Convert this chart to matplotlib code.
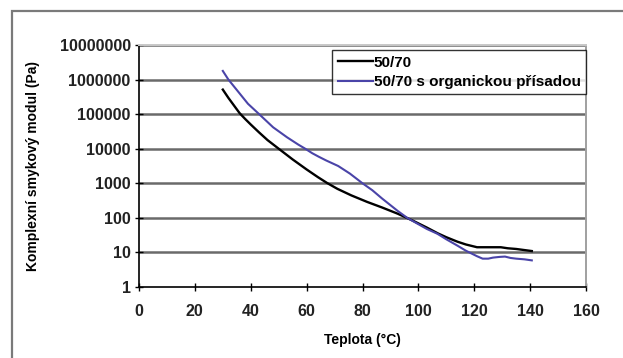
#!/usr/bin/env python3
# complex shear modulus vs temperature, two binders
import numpy as np
import matplotlib
matplotlib.use('Agg')
import matplotlib.pyplot as plt
from matplotlib.ticker import FixedLocator, FixedFormatter

plt.rcParams['font.family'] = ['Liberation Sans', 'DejaVu Sans']

# 50/70 (black), values read as log10(Pa)
t_ref = [30, 32, 34, 36, 38, 40, 43, 46, 50, 55, 60, 64, 67.3, 71, 76, 81.7, 87, 92.6, 98, 103, 107, 110,
         114, 117, 120, 121, 125, 129.5, 132, 135, 140.6]
lg_ref = [5.71, 5.47, 5.25, 5.03, 4.86, 4.70, 4.47, 4.25, 4.0, 3.69, 3.40, 3.18, 3.01, 2.84, 2.65, 2.46,
          2.30, 2.12, 1.92, 1.72, 1.55, 1.44, 1.31, 1.23, 1.17, 1.15, 1.15, 1.15, 1.12, 1.10, 1.04]

# 50/70 s organickou přísadou (blue)
t_mod = [30, 32, 36, 39, 43, 48, 53, 57, 59.5, 62, 64.3, 67, 71.3, 75.5, 80, 83.5, 87, 92.6, 96, 99.7,
         103, 106.8, 110, 113.9, 117, 121, 123, 125, 126.7, 129, 131, 133, 135, 138, 140.6]
lg_mod = [6.25, 6.0, 5.6, 5.3, 5.0, 4.62, 4.33, 4.12, 4.0, 3.87, 3.77, 3.66, 3.5, 3.28, 3.0, 2.8, 2.56,
          2.2, 2.0, 1.83, 1.68, 1.54, 1.38, 1.2, 1.05, 0.89, 0.82, 0.82, 0.85, 0.87, 0.88, 0.84, 0.82,
          0.80, 0.77]

yticks = [1, 10, 100, 1000, 10000, 100000, 1000000, 10000000]
xticks = [0, 20, 40, 60, 80, 100, 120, 140, 160]

g_ref = 10 ** np.array(lg_ref)
g_mod = 10 ** np.array(lg_mod)

fig = plt.figure(figsize=(6.23, 3.58), dpi=100)
# outer chart frame
fig.patches.append(plt.Rectangle((12/623, -0.01), 1.0, 1 - 11/358 + 0.01, transform=fig.transFigure,
                                 fill=False, edgecolor='#7a7a7a', linewidth=1.6))

ax = fig.add_axes([139/623, 1 - 287/358, 447/623, 242/358])
ax.set_yscale('log')
ax.set_xlim(0, 160)
ax.set_ylim(1, 1e7)

for y in yticks[1:]:
    ax.axhline(y, color='#6a6a6a', linewidth=1.8, zorder=1)

ax.plot(t_ref, g_ref, color='black', linewidth=1.7, label='50/70', zorder=3)
ax.plot(t_mod, g_mod, color='#4a44a8', linewidth=1.5, label='50/70 s organickou přísadou', zorder=3)

ax.yaxis.set_major_locator(FixedLocator(yticks))
ax.yaxis.set_major_formatter(FixedFormatter([str(v) for v in yticks]))
ax.yaxis.set_minor_locator(FixedLocator([]))
ax.set_xticks(xticks)
ax.tick_params(axis='both', direction='inout', length=6, width=1.0, labelsize=11.5, colors='black')
ax.tick_params(axis='y', pad=3)
ax.tick_params(axis='x', pad=9)
for lab in ax.get_xticklabels() + ax.get_yticklabels():
    lab.set_fontweight('bold')
    lab.set_color('#222222')

for s in ('left', 'bottom'):
    ax.spines[s].set_color('black')
    ax.spines[s].set_linewidth(1.2)
ax.spines['top'].set_color('#c8c8c8')
ax.spines['right'].set_color('#a0a0a0')
ax.spines['top'].set_linewidth(1.4)
ax.spines['right'].set_linewidth(1.4)

ax.set_xlabel('Teplota (°C)', fontsize=10, fontweight='bold', labelpad=10)
ax.set_ylabel('Komplexní smykový modul (Pa)', fontsize=10, fontweight='bold')
ax.yaxis.set_label_coords(-99/447, 0.5)

leg = ax.legend(loc='upper right', bbox_to_anchor=(1.0, 0.978), fontsize=11, frameon=True, fancybox=False,
                handlelength=2.3, handletextpad=0.05, borderpad=0.35, labelspacing=0.35, borderaxespad=0)
leg.get_frame().set_edgecolor('black')
leg.get_frame().set_linewidth(1.0)
for t in leg.get_texts():
    t.set_fontweight('bold')

fig.savefig('out.png', dpi=100)
